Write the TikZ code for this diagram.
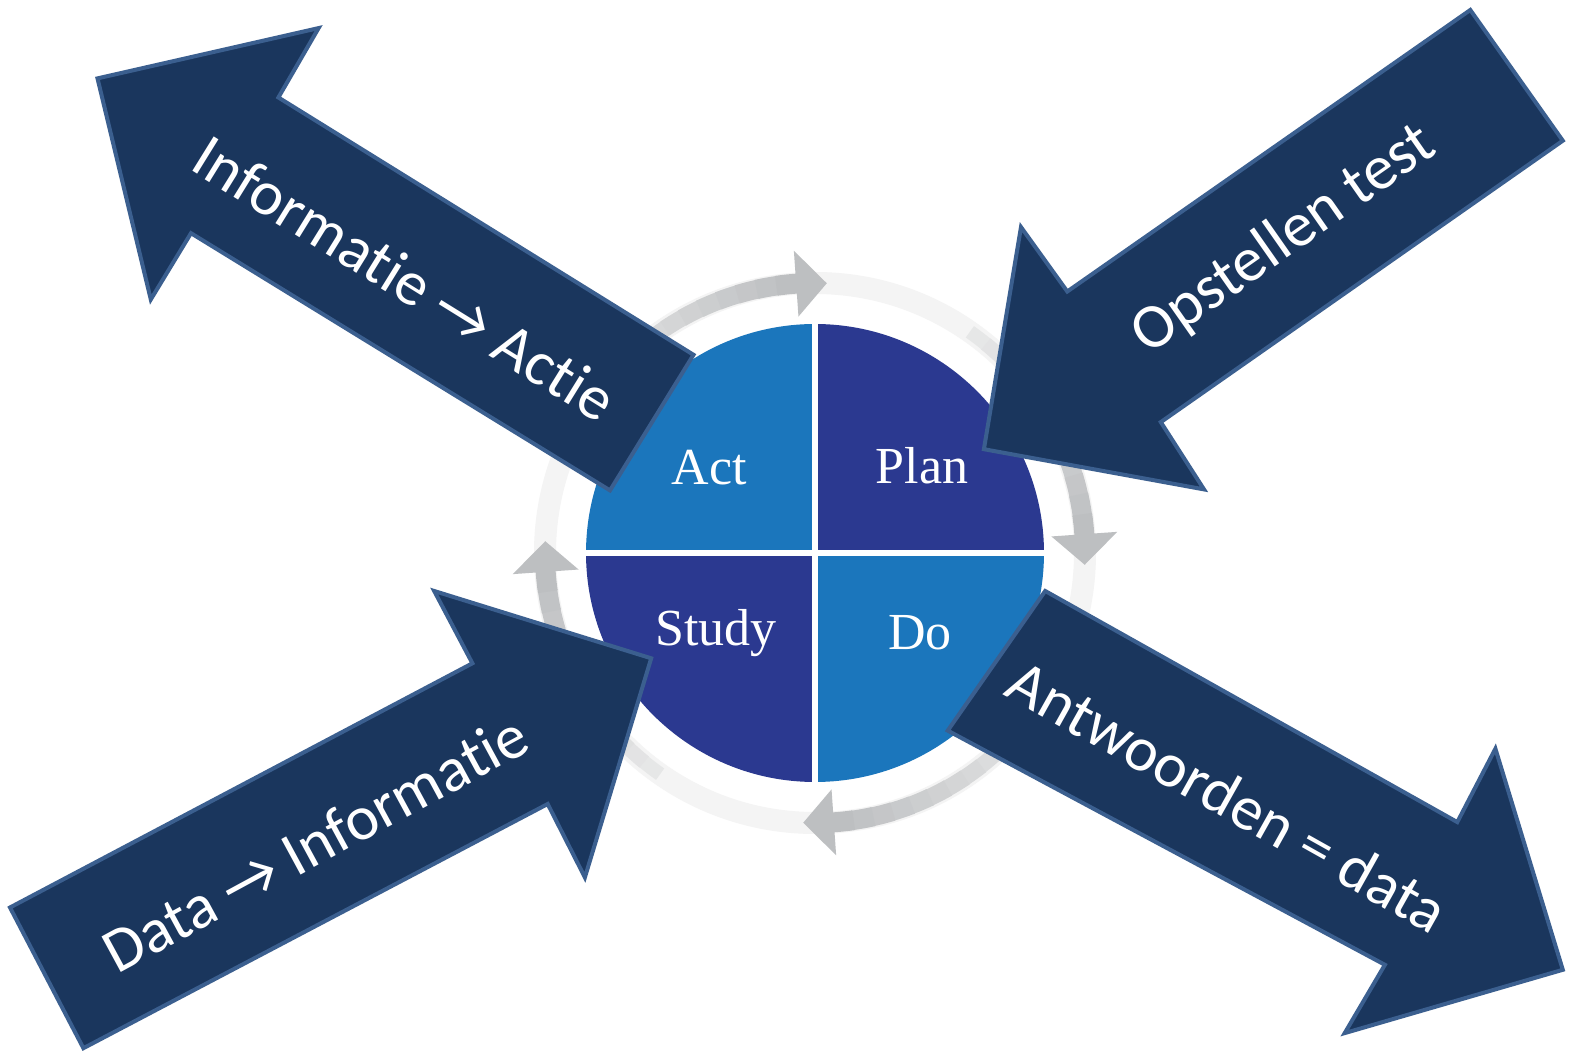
\documentclass[tikz,border=0pt]{standalone}
\usepackage{fontspec}
\setmainfont{Carlito}[Ligatures=NoCommon]
\newfontfamily\pdcafont{Liberation Serif}
\definecolor{navy}{HTML}{1A365D}
\definecolor{navyedge}{HTML}{3B5F8F}
\definecolor{qlight}{HTML}{1B76BC}
\definecolor{qdark}{HTML}{2B3990}
\definecolor{arcgrey}{HTML}{BDBFC1}
\definecolor{ringfaint}{HTML}{F4F4F4}
\begin{document}
\begin{tikzpicture}[x=0.5pt,y=0.5pt,
  bigarrow/.style={fill=navy, draw=navyedge, line width=2pt, line join=miter},
  arrowtext/.style={text=white, font=\fontsize{31.5}{38}\selectfont, inner sep=0pt},
  pdcalabel/.style={text=white, font=\pdcafont\fontsize{26}{30}\selectfont, inner sep=0pt},
  divider/.style={draw=white, line width=3pt}]
\useasboundingbox (0,0) rectangle (1576,-1052);
\fill[white] (0,0) rectangle (1576,-1052);

% centre of the PDCA wheel
\coordinate (c) at (815,-553);

% faint background ring
\draw[ringfaint, line width=11pt] (c) circle[radius=270];

% four grey cycle arrows, fading in towards their heads
\foreach \k in {0,1,2,3} {
  \foreach \i in {0,...,11} {
    \pgfmathsetmacro\sa{55+90*\k-\i*4.25}
    \pgfmathsetmacro\ea{\sa-4.55}
    \pgfmathsetmacro\pc{25+\i*6.8}
    \pgfmathsetmacro\lw{7+\i*0.27}
    \draw[draw=arcgrey!\pc!ringfaint, line width=\lw pt]
      ([shift={(\sa:270)}]c) arc[start angle=\sa, end angle=\ea, radius=270];
  }
  \pgfmathsetmacro\ba{4+90*\k}
  \pgfmathsetmacro\ta{-2.5+90*\k}
  \fill[arcgrey] ([shift={(\ba:237)}]c) -- ([shift={(\ta:270)}]c)
    -- ([shift={(\ba:303)}]c) -- cycle;
}

% the wheel: four quadrants
\fill[qdark]  (c) -- ([shift={(0:229)}]c)   arc[start angle=0,   end angle=90,  radius=229] -- cycle;
\fill[qlight] (c) -- ([shift={(90:229)}]c)  arc[start angle=90,  end angle=180, radius=229] -- cycle;
\fill[qdark]  (c) -- ([shift={(180:229)}]c) arc[start angle=180, end angle=270, radius=229] -- cycle;
\fill[qlight] (c) -- ([shift={(270:229)}]c) arc[start angle=270, end angle=360, radius=229] -- cycle;
\draw[divider] ([shift={(90:230)}]c) -- ([shift={(270:230)}]c);
\draw[divider] ([shift={(180:230)}]c) -- ([shift={(0:230)}]c);

\node[pdcalabel] (act)   at (709,-468) {Act};
\node[pdcalabel] (plan)  at (922,-466) {Plan};
\node[pdcalabel] (study) at (716,-633) {Study};
\node[pdcalabel] (do)    at (920,-633) {Do};

% big arrows
\draw[bigarrow] (97.5,-78.4) -- (318.6,-28.1) -- (278.4,-97.5) -- (693.5,-354.8)
  -- (610,-490.4) -- (191,-233.2) -- (150.8,-299.5) -- cycle;
\draw[bigarrow] (983.9,-449.2) -- (1021,-227.1) -- (1067.3,-291.5) -- (1470.3,-10)
  -- (1562.8,-140.7) -- (1160.8,-422.1) -- (1204,-489.4) -- cycle;
\draw[bigarrow] (651.2,-658.3) -- (434.2,-591) -- (472.4,-663.3) -- (10,-907.5)
  -- (83.4,-1048.2) -- (547.7,-804) -- (584.9,-877.4) -- cycle;
\draw[bigarrow] (1045.2,-591) -- (1457.3,-822.1) -- (1495.4,-748.7) -- (1562.8,-969.8)
  -- (1344.7,-1033.1) -- (1384.9,-964.8) -- (947.7,-730.6) -- cycle;

\node[arrowtext, rotate=-31.8] (t1) at (405,-278) {Informatie → Actie};
\node[arrowtext, rotate=35]    (t2) at (1284,-240) {Opstellen test};
\node[arrowtext, rotate=28.5]  (t3) at (315,-843) {Data → Informatie};
\node[arrowtext, rotate=-29.3] (t4) at (1228,-796) {Antwoorden = data};
\end{tikzpicture}
\end{document}
